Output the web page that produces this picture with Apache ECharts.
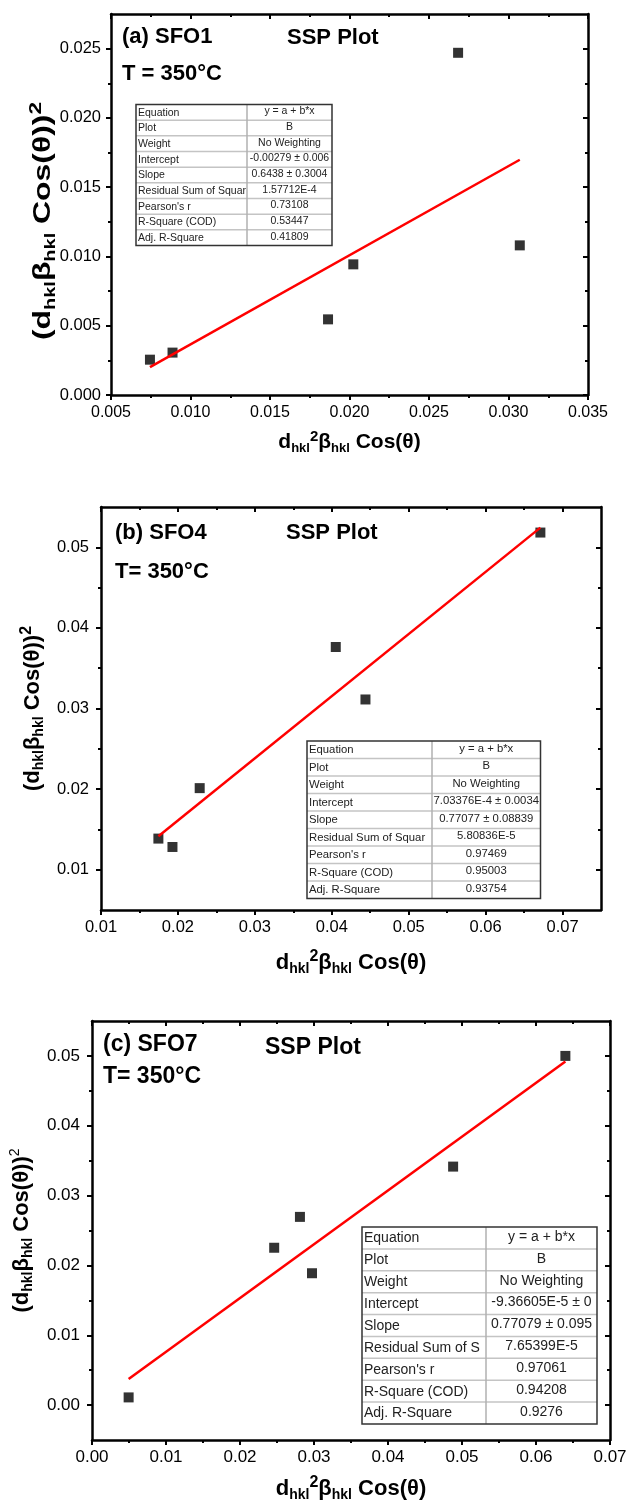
<!DOCTYPE html>
<html><head><meta charset="utf-8">
<script src="https://cdn.jsdelivr.net/npm/echarts@6/dist/echarts.min.js"></script>
<style>html,body{margin:0;padding:0;background:#fff}#c{width:630px;height:1512px}</style>
</head><body><div id="c"></div>
<script>
// ---------- DATA ----------
// Panel (a) SFO1
const xA = [0.00745, 0.00887, 0.01865, 0.02024, 0.02683, 0.03071];
const yA = [0.00255, 0.00306, 0.00546, 0.00943, 0.02470, 0.01080];
const fitXA = [0.00745, 0.03071];
const fitYA = [0.00201, 0.01698];
// Panel (b) SFO4
const xB = [0.01746, 0.01929, 0.02283, 0.04052, 0.04438, 0.06712];
const yB = [0.01386, 0.01282, 0.02012, 0.03763, 0.03112, 0.05183];
const fitXB = [0.01746, 0.06712];
const fitYB = [0.01416, 0.05244];
// Panel (c) SFO7
const xC = [0.00495, 0.02462, 0.02810, 0.02973, 0.04880, 0.06397];
const yC = [0.00110, 0.02253, 0.02695, 0.01888, 0.03415, 0.05000];
const fitXC = [0.00495, 0.06397];
const fitYC = [0.00372, 0.04921];

// tick values
const xTicksA = [0.005, 0.010, 0.015, 0.020, 0.025, 0.030, 0.035];
const xMinorA = [0.0075, 0.0125, 0.0175, 0.0225, 0.0275, 0.0325];
const yTicksA = [0.000, 0.005, 0.010, 0.015, 0.020, 0.025];
const yMinorA = [0.0025, 0.0075, 0.0125, 0.0175, 0.0225];
const xTicksB = [0.01, 0.02, 0.03, 0.04, 0.05, 0.06, 0.07];
const xMinorB = [0.015, 0.025, 0.035, 0.045, 0.055, 0.065];
const yTicksB = [0.01, 0.02, 0.03, 0.04, 0.05];
const yMinorB = [0.015, 0.025, 0.035, 0.045];
const xTicksC = [0.00, 0.01, 0.02, 0.03, 0.04, 0.05, 0.06, 0.07];
const xMinorC = [0.005, 0.015, 0.025, 0.035, 0.045, 0.055, 0.065];
const yTicksC = [0.00, 0.01, 0.02, 0.03, 0.04, 0.05];
const yMinorC = [0.005, 0.015, 0.025, 0.035, 0.045];

// fit tables
const tableLabels = ['Equation', 'Plot', 'Weight', 'Intercept', 'Slope', 'Residual Sum of Squar', "Pearson's r", 'R-Square (COD)', 'Adj. R-Square'];
const tableLabelsC = ['Equation', 'Plot', 'Weight', 'Intercept', 'Slope', 'Residual Sum of S', "Pearson's r", 'R-Square (COD)', 'Adj. R-Square'];
const tableA = ['y = a + b*x', 'B', 'No Weighting', '-0.00279 ± 0.006', '0.6438 ± 0.3004', '1.57712E-4', '0.73108', '0.53447', '0.41809'];
const tableB = ['y = a + b*x', 'B', 'No Weighting', '7.03376E-4 ± 0.0034', '0.77077 ± 0.08839', '5.80836E-5', '0.97469', '0.95003', '0.93754'];
const tableC = ['y = a + b*x', 'B', 'No Weighting', '-9.36605E-5 ± 0', '0.77079 ± 0.095', '7.65399E-5', '0.97061', '0.94208', '0.9276'];

const labelsA = ['(a) SFO1', 'SSP Plot', 'T = 350°C'];
const labelsB = ['(b) SFO4', 'SSP Plot', 'T= 350°C'];
const labelsC = ['(c) SFO7', 'SSP Plot', 'T= 350°C'];

const xTitle = '{m|d}{s|hkl}{p|2}{m|β}{s|hkl}{m| Cos(θ)}';
const yTitle = '{m|(d}{s|hkl}{m|β}{s|hkl}{m| Cos(θ))}{p|2}';
const yTitleC = '{m|(d}{s|hkl}{m|β}{s|hkl}{m| Cos(θ))}{q|2}';

// ---------- STYLE / BUILD ----------
const FONT = '"Liberation Sans", Arial, sans-serif';
function rich(m, s, p) {
  return {
    m: {fontSize: m, fontWeight: 'bold', fontFamily: FONT, color: '#000', fill: '#000', lineHeight: Math.round(m * 1.24)},
    s: {fontSize: s, fontWeight: 'bold', fontFamily: FONT, color: '#000', fill: '#000', lineHeight: Math.round(s * 0.92), verticalAlign: 'bottom'},
    p: {fontSize: p, fontWeight: 'bold', fontFamily: FONT, color: '#000', fill: '#000', lineHeight: Math.round(p * 0.93), verticalAlign: 'top'},
    q: {fontSize: s, fontWeight: 'normal', fontFamily: FONT, color: '#000', fill: '#000', lineHeight: Math.round(s * 0.92), verticalAlign: 'top'}
  };
}
function makeAxes(kind, grid, min, max, majors, minors, digits, fs, margin, name, nameGap, nameRich) {
  const p1 = kind === 'x' ? 'bottom' : 'left';
  const p2 = kind === 'x' ? 'top' : 'right';
  const ls = {color: '#000', width: 2.5};
  const tl = {color: '#000', width: 2};
  const common = {type: 'value', gridIndex: grid, min: min, max: max, splitLine: {show: false}, minorTick: {show: false}};
  return [
    Object.assign({}, common, {
      position: p1,
      axisLine: {show: true, onZero: false, lineStyle: ls},
      axisTick: {show: true, inside: false, length: 5, customValues: majors, lineStyle: tl},
      axisLabel: {show: true, customValues: majors, formatter: v => v.toFixed(digits), fontSize: fs, fontFamily: FONT, color: '#000', margin: margin},
      name: name, nameLocation: 'middle', nameGap: nameGap, nameTextStyle: {rich: nameRich}
    }),
    Object.assign({}, common, {
      position: p1,
      axisLine: {show: false, onZero: false},
      axisTick: {show: true, inside: false, length: 3, customValues: minors, lineStyle: tl},
      axisLabel: {show: false}
    }),
    Object.assign({}, common, {
      position: p2,
      axisLine: {show: true, onZero: false, lineStyle: ls},
      axisTick: {show: true, inside: true, length: 5, customValues: majors, lineStyle: tl},
      axisLabel: {show: false}
    }),
    Object.assign({}, common, {
      position: p2,
      axisLine: {show: false, onZero: false},
      axisTick: {show: true, inside: true, length: 3, customValues: minors, lineStyle: tl},
      axisLabel: {show: false}
    })
  ];
}
function pairs(xs, ys) { return xs.map((x, i) => [x, ys[i]]); }
function seriesFor(g, xs, ys, fx, fy) {
  return [
    {type: 'scatter', xAxisIndex: 4 * g, yAxisIndex: 4 * g, data: pairs(xs, ys), symbol: 'rect', symbolSize: 10, itemStyle: {color: '#000'}, z: 2, silent: true},
    {type: 'line', xAxisIndex: 4 * g, yAxisIndex: 4 * g, data: pairs(fx, fy), symbol: 'none', lineStyle: {color: '#f00', width: 2.5}, z: 3, silent: true}
  ];
}
function table(x, y, w, h, c1, fs, labels, values) {
  const rh = h / labels.length;
  const ch = [];
  ch.push({type: 'rect', shape: {x: x, y: y, width: w, height: h}, style: {fill: '#fff'}, z: 100});
  for (let i = 1; i < labels.length; i++) {
    ch.push({type: 'line', shape: {x1: x, y1: y + i * rh, x2: x + w, y2: y + i * rh}, style: {stroke: '#c4c4c4', lineWidth: 1.5}, z: 101});
  }
  ch.push({type: 'line', shape: {x1: x + c1, y1: y, x2: x + c1, y2: y + h}, style: {stroke: '#b0b0b0', lineWidth: 1.5}, z: 101});
  ch.push({type: 'rect', shape: {x: x, y: y, width: w, height: h}, style: {fill: 'transparent', stroke: '#333', lineWidth: 1.5}, z: 102});
  labels.forEach((t, i) => {
    ch.push({type: 'text', x: x + 2, y: y + i * rh + rh / 2 + 0.5, z: 103,
      style: {text: t, fontSize: fs, fontFamily: FONT, fill: '#222', align: 'left', verticalAlign: 'middle'}});
    ch.push({type: 'text', x: x + c1 + (w - c1) / 2, y: y + i * rh + rh / 2 - 1, z: 103,
      style: {text: values[i], fontSize: fs, fontFamily: FONT, fill: '#222', align: 'center', verticalAlign: 'middle'}});
  });
  return ch;
}
function label(t, x, y, fs) {
  return {type: 'text', x: x, y: y, z: 110, style: {text: t, fontSize: fs, fontWeight: 'bold', fontFamily: FONT, fill: '#000', align: 'left', verticalAlign: 'middle'}};
}

const xAxes = [].concat(
  makeAxes('x', 0, 0.005, 0.035, xTicksA, xMinorA, 3, 16, 10, xTitle, 34, rich(21, 13, 15)),
  makeAxes('x', 1, 0.01, 0.075, xTicksB, xMinorB, 2, 16.5, 9, xTitle, 39, rich(22, 14, 16)),
  makeAxes('x', 2, 0.00, 0.07, xTicksC, xMinorC, 2, 17, 9, xTitle, 35, rich(22, 14, 16))
);
const yAxes = [].concat(
  makeAxes('y', 0, 0.000, 0.0275, yTicksA, yMinorA, 3, 16.5, 10, '', 0, {}),
  makeAxes('y', 1, 0.005, 0.055, yTicksB, yMinorB, 2, 16.5, 12, yTitle, 52, rich(22, 14, 16)),
  makeAxes('y', 2, -0.005, 0.055, yTicksC, yMinorC, 2, 17, 12, yTitleC, 57, rich(22, 14, 16))
);

// panel (a) y title is drawn elongated along its reading direction, as in the original figure
const yTitleA = {type: 'text', x: 43, y: 221, rotation: Math.PI / 2, scaleX: 1.33, z: 110,
  style: {text: yTitle, rich: rich(24, 15, 17), align: 'center', verticalAlign: 'middle'}};

const graphics = [].concat(
  table(136, 104.5, 196, 141, 111, 10.5, tableLabels, tableA),
  table(307, 741, 233.5, 157.5, 125, 11.3, tableLabels, tableB),
  table(362, 1227, 235, 197, 124, 14, tableLabelsC, tableC),
  [yTitleA,
   label(labelsA[0], 122, 37, 22), label(labelsA[1], 287, 38, 22), label(labelsA[2], 122, 74, 22),
   label(labelsB[0], 115, 533, 22), label(labelsB[1], 286, 533, 22), label(labelsB[2], 115, 572, 22),
   label(labelsC[0], 103, 1045, 23), label(labelsC[1], 265, 1048, 23), label(labelsC[2], 103, 1077, 23)]
);

const chart = echarts.init(document.getElementById('c'), null, {renderer: 'canvas'});
chart.setOption({
  animation: false,
  backgroundColor: '#fff',
  grid: [
    {left: 111, top: 14, width: 477, height: 381},
    {left: 101, top: 507, width: 500, height: 403},
    {left: 92, top: 1021, width: 518, height: 419}
  ],
  xAxis: xAxes,
  yAxis: yAxes,
  series: [].concat(seriesFor(0, xA, yA, fitXA, fitYA), seriesFor(1, xB, yB, fitXB, fitYB), seriesFor(2, xC, yC, fitXC, fitYC)),
  graphic: graphics
});
</script></body></html>
